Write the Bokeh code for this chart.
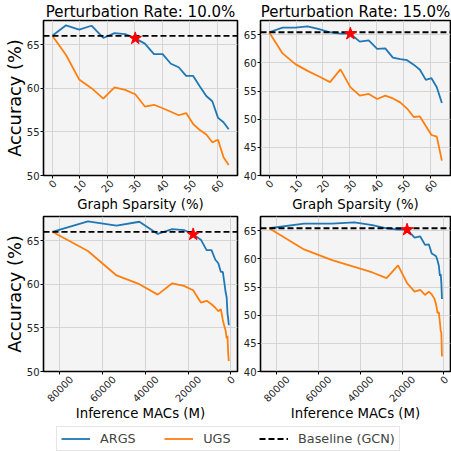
import math
from bokeh.plotting import figure
from bokeh.models import (Range1d, FixedTicker, Span, Legend, LegendItem, LinearAxis)
from bokeh.layouts import column, row
from bokeh.embed import file_html
from bokeh.resources import INLINE

FONT = "DejaVu Sans"

# ---------------- data ----------------
sparsity = [0, 5, 9.75, 14.26, 18.55, 22.62, 26.49, 30.17, 33.66, 36.98, 40.13,
            43.12, 45.96, 48.67, 51.23, 53.67, 55.99, 58.19, 60.28, 62.26, 64.15]
macs = [83600, 66900, 53500, 42800, 34200, 27400, 21900, 17600, 14000, 11300, 9000,
        7200, 5800, 4600, 3700, 3000, 2400, 1900, 1500, 1200, 900]

args_10 = [66.0, 67.2, 66.7, 67.15, 65.75, 66.3, 66.2, 65.7, 65.1, 63.9, 63.9,
           62.8, 62.4, 61.4, 61.4, 60.2, 59.1, 58.5, 56.6, 56.1, 55.3]
ugs_10 = [66.0, 63.8, 61.0, 60.0, 58.8, 60.1, 59.8, 59.3, 57.9, 58.1, 57.7,
          57.3, 56.9, 57.15, 55.9, 55.2, 54.7, 53.8, 54.1, 52.1, 51.2]
args_15 = [65.46, 66.3, 66.3, 66.5, 66.0, 65.46, 65.2, 65.2, 63.8, 64.0, 62.5,
           62.6, 60.96, 60.7, 60.5, 59.7, 58.8, 57.0, 57.3, 55.7, 52.9]
ugs_15 = [65.46, 61.7, 59.8, 58.6, 57.6, 56.6, 58.86, 55.7, 54.2, 54.5, 53.6,
          54.2, 53.7, 53.0, 51.9, 50.4, 50.5, 48.8, 47.2, 46.9, 42.65]

baseline_10 = 66.0
baseline_15 = 65.46
star_index = 7

titles = ["Perturbation Rate: 10.0%", "Perturbation Rate: 15.0%"]
series_names = ["ARGS", "UGS", "Baseline (GCN)"]
sparsity_ticks = [0, 10, 20, 30, 40, 50, 60]
macs_ticks = [80000, 60000, 40000, 20000, 0]
acc_ticks_10 = [50, 55, 60, 65]
acc_ticks_15 = [40, 45, 50, 55, 60, 65]

# ---------------- style ----------------
C_ARGS = "#1f77b4"
C_UGS = "#ff7f0e"
LW = 1.8
DASH = "6 3"
TICK_FS = 10.0


def panel(xs, args, ugs, base, xr, yr, xticks, yticks, xlabel, ylabel, title,
          width, height, borders, xlab_standoff):
    bl, br, bt, bb = borders
    frame_w = width - bl - br
    p = figure(width=width, height=height, output_backend="svg", toolbar_location=None,
               x_range=Range1d(*xr), y_range=Range1d(*yr),
               min_border_left=bl, min_border_right=br, min_border_top=bt,
               min_border_bottom=bb, title=title)
    p.background_fill_color = "#f4f4f4"
    p.border_fill_color = "white"
    p.outline_line_color = "black"
    p.outline_line_width = 1.6
    if title:
        p.title.text_font = FONT
        p.title.text_font_size = "15px"
        p.title.text_font_style = "normal"
        p.title.align = "center"
        p.title.standoff = 0
        p.title.text_color = "black"

    xax = p.below[0]
    yax = p.left[0]
    xax.ticker = FixedTicker(ticks=xticks)
    yax.ticker = FixedTicker(ticks=yticks)
    for ax in (xax, yax):
        ax.axis_line_color = None
        ax.major_tick_out = 3
        ax.major_tick_in = 0
        ax.major_tick_line_color = "black"
        ax.minor_tick_line_color = None
        ax.axis_label_text_font = FONT
        ax.axis_label_text_font_style = "normal"
        ax.axis_label_text_color = "black"
        ax.major_label_text_font = FONT
        ax.major_label_text_color = "#222222"
        ax.major_label_text_font_size = f"{TICK_FS}px"
    yax.major_label_standoff = 1
    if ylabel:
        yax.axis_label = ylabel
        yax.axis_label_text_font_size = "17.8px"
        yax.axis_label_standoff = -1
    # tick marks / grid axis without labels
    xax.major_label_text_font_size = "0px"
    xax.major_label_overrides = {t: "" for t in xticks}
    xax.major_label_standoff = 0

    # second axis carrying the rotated labels, centred on their ticks
    px_per_unit = frame_w / (xr[1] - xr[0])
    lab_ticks, overrides = [], {}
    for t in xticks:
        s = str(t)
        w = len(s) * 0.636 * TICK_FS
        pos = round(t + 0.354 * w / px_per_unit, 3)
        lab_ticks.append(pos)
        overrides[pos] = s
    lax = LinearAxis(ticker=FixedTicker(ticks=lab_ticks), major_label_overrides=overrides,
                     major_label_orientation=math.pi / 4, major_tick_out=0, major_tick_in=0,
                     minor_tick_out=0, minor_tick_in=0, axis_line_color=None,
                     major_label_standoff=3, major_label_text_font=FONT,
                     major_label_text_font_size=f"{TICK_FS}px",
                     major_label_text_color="#222222",
                     axis_label=xlabel, axis_label_text_font=FONT,
                     axis_label_text_font_style="normal", axis_label_text_color="black",
                     axis_label_text_font_size="13.3px", axis_label_standoff=xlab_standoff)
    p.add_layout(lax, "below")

    p.grid.grid_line_color = "#d4d4d4"
    p.grid.grid_line_width = 1

    p.line(xs, args, line_color=C_ARGS, line_width=LW)
    p.line(xs, ugs, line_color=C_UGS, line_width=LW)
    p.add_layout(Span(location=base, dimension="width", line_color="black",
                      line_dash=DASH, line_width=LW))
    p.scatter([xs[star_index]], [args[star_index]], marker="star", size=13,
              fill_color="red", line_color="red", level="overlay")
    return p


xr_sp = (-3.2, 67.35)
xr_mac = (87730, -3180)
yr_10 = (50, 67.75)
yr_15 = (40, 67.55)

p1 = panel(sparsity, args_10, ugs_10, baseline_10, xr_sp, yr_10, sparsity_ticks,
           acc_ticks_10, "Graph Sparsity (%)", "Accuracy (%)", titles[0],
           240, 215, (43, 3, 20, 38), -2)
p2 = panel(sparsity, args_15, ugs_15, baseline_15, xr_sp, yr_15, sparsity_ticks,
           acc_ticks_15, "Graph Sparsity (%)", None, titles[1],
           211, 215, (17, 1, 20, 38), -2)
p3 = panel(macs, args_10, ugs_10, baseline_10, xr_mac, yr_10, macs_ticks,
           acc_ticks_10, "Inference MACs (M)", "Accuracy (%)", None,
           240, 208, (43, 3, 1, 51), -3)
p4 = panel(macs, args_15, ugs_15, baseline_15, xr_mac, yr_15, macs_ticks,
           acc_ticks_15, "Inference MACs (M)", None, None,
           211, 208, (17, 1, 1, 51), -3)

# legend strip (gaps between entries come from trailing spaces, so the box
# ends right after the last entry)
GAP = " " * 7
nan = float("nan")
pl = figure(width=451, height=28, output_backend="svg", toolbar_location=None,
            x_range=Range1d(0, 1), y_range=Range1d(0, 1), min_border=0,
            x_axis_location=None, y_axis_location=None)
pl.outline_line_color = None
pl.grid.visible = False
r1 = pl.line([nan, nan], [nan, nan], line_color=C_ARGS, line_width=LW)
r2 = pl.line([nan, nan], [nan, nan], line_color=C_UGS, line_width=LW)
r3 = pl.line([nan, nan], [nan, nan], line_color="black", line_width=LW, line_dash=DASH)
legend = Legend(items=[LegendItem(label=series_names[0] + GAP, renderers=[r1]),
                       LegendItem(label=series_names[1] + GAP, renderers=[r2]),
                       LegendItem(label=series_names[2], renderers=[r3])],
                orientation="horizontal", location=(56, 0), margin=0, padding=4,
                spacing=0, glyph_width=29, glyph_height=15, label_height=15,
                label_standoff=10, label_text_font=FONT, label_text_font_size="12.8px",
                border_line_color="#cccccc", border_line_width=1,
                background_fill_color="white", background_fill_alpha=1)
pl.add_layout(legend)

layout = column(row(p1, p2), row(p3, p4), pl)
open("out.html", "w").write(file_html(layout, INLINE))
